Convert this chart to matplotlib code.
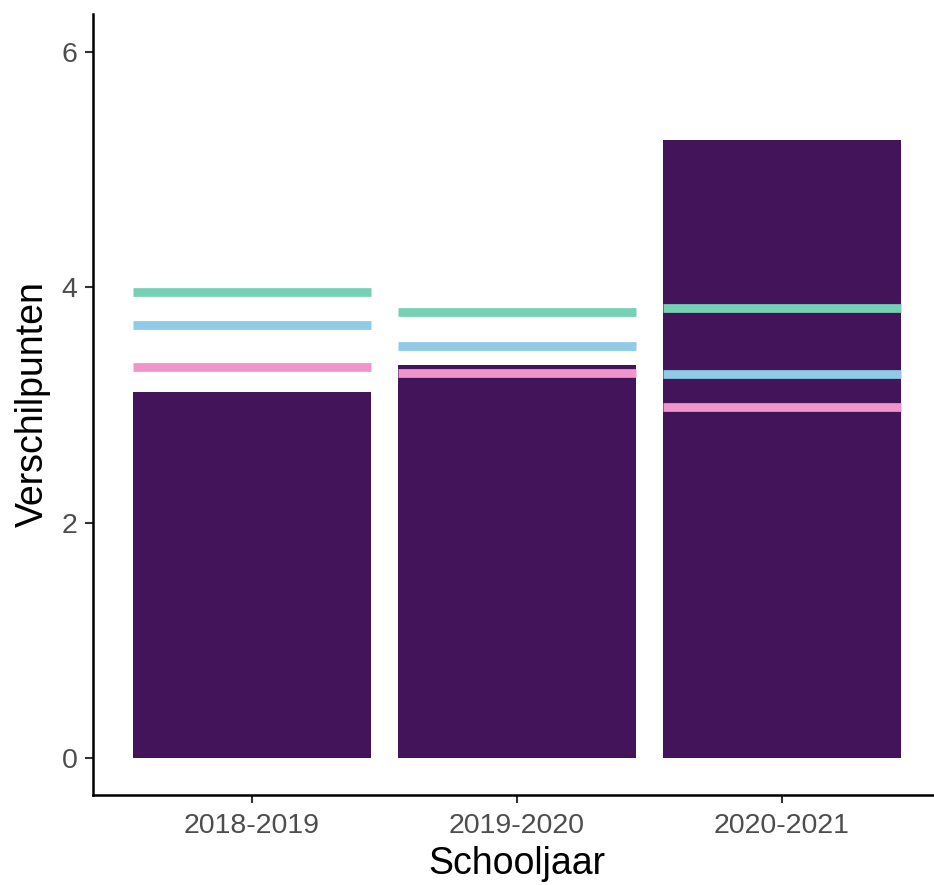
import numpy as np
import matplotlib
matplotlib.use("Agg")
import matplotlib.pyplot as plt

plt.rcParams['font.family'] = ['Liberation Sans', 'DejaVu Sans']

# data
schooljaren = ['2018-2019', '2019-2020', '2020-2021']
verschil = [3.11, 3.34, 5.25]
lijn_groen = [3.96, 3.79, 3.82]
lijn_blauw = [3.68, 3.50, 3.26]
lijn_roze = [3.32, 3.27, 2.98]

x = np.arange(len(schooljaren))
breedte = 0.9

fig = plt.figure(figsize=(9.34, 8.85), dpi=100)
ax = fig.add_axes([93 / 934, 1 - 795 / 885, (941 - 93) / 934, (795 - 14) / 885])

ax.bar(x, verschil, width=breedte, color='#43145A', zorder=2)
ax.hlines(lijn_groen, x - breedte / 2, x + breedte / 2, color='#76D1B4', linewidth=6.3, zorder=3)
ax.hlines(lijn_blauw, x - breedte / 2, x + breedte / 2, color='#8FCAE7', linewidth=6.3, zorder=3)
ax.hlines(lijn_roze, x - breedte / 2, x + breedte / 2, color='#F094CC', linewidth=6.3, zorder=3)

ax.set_xlim(-0.6, 2.6)
ax.set_ylim(-0.31, 6.32)
ax.set_xticks(x)
ax.set_xticklabels(schooljaren)
ax.set_yticks([0, 2, 4, 6])

for s in ['top', 'right']:
    ax.spines[s].set_visible(False)
for s in ['left', 'bottom']:
    ax.spines[s].set_linewidth(1.8)
    ax.spines[s].set_color('black')

ax.tick_params(axis='both', length=6, width=1.5, color='#333333',
               labelcolor='#4D4D4D', labelsize=20.5)
ax.tick_params(axis='x', pad=7)
ax.tick_params(axis='y', pad=5)
ax.set_xlabel('Schooljaar', fontsize=27, labelpad=5)
ax.set_ylabel('Verschilpunten', fontsize=27, labelpad=8)

fig.savefig('out.png', dpi=100)
